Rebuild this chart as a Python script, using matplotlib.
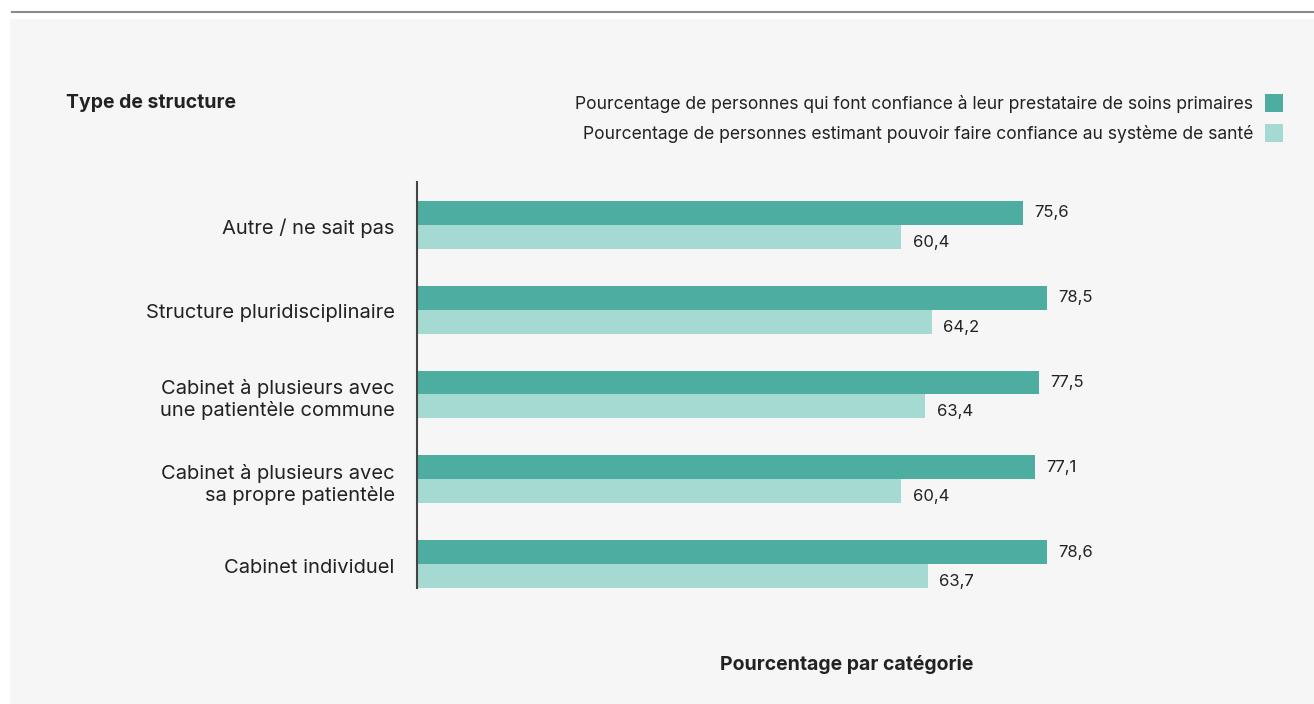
import matplotlib.pyplot as plt
from matplotlib.patches import Rectangle
from matplotlib.lines import Line2D
import numpy as np

plt.rcParams['font.family'] = ['Inter', 'DejaVu Sans']

# data (bottom to top)
categories = ['Cabinet individuel',
              'Cabinet à plusieurs avec\nsa propre patientèle',
              'Cabinet à plusieurs avec\nune patientèle commune',
              'Structure pluridisciplinaire',
              'Autre / ne sait pas']
trust_provider = [78.6, 77.1, 77.5, 78.5, 75.6]
trust_system = [63.7, 60.4, 63.4, 64.2, 60.4]
series_names = ['Pourcentage de personnes qui font confiance à leur prestataire de soins primaires',
                'Pourcentage de personnes estimant pouvoir faire confiance au système de santé']

dark = '#4dada0'
light = '#a5dad2'
text_col = '#222222'

W, H = 1314, 704
fig = plt.figure(figsize=(W / 100, H / 100), dpi=100)
fig.patch.set_facecolor('white')

# panel background and top rule
fig.patches.append(Rectangle((10 / W, 0), 1 - 10 / W, 1 - 19 / H, transform=fig.transFigure,
                             facecolor='#f6f6f6', edgecolor='none', zorder=-10))
fig.lines.append(Line2D([12 / W, 1], [1 - 12 / H, 1 - 12 / H], transform=fig.transFigure,
                        color='#8a8a8a', lw=1.5, zorder=-10))

ax = fig.add_axes([417 / W, 1 - 588 / H, 802 / W, 406 / H])
ax.set_facecolor('none')
ax.set_zorder(5)

y = np.arange(len(categories))
bh = 0.283
ax.barh(y + bh / 2, trust_provider, height=bh, color=dark)
ax.barh(y - bh / 2, trust_system, height=bh, color=light)

for yi, v in zip(y, trust_provider):
    ax.text(v + 1.4, yi + bh / 2, f'{v:.1f}'.replace('.', ','), va='center', ha='left',
            fontsize=12, color=text_col)
for yi, v in zip(y, trust_system):
    ax.text(v + 1.4, yi - bh / 2 - 0.065, f'{v:.1f}'.replace('.', ','), va='center', ha='left',
            fontsize=12, color=text_col)

ax.set_xlim(0, 100)
ax.set_ylim(-0.283, 4.507)
ax.set_xticks([])
ax.set_yticks(y - 0.02)
ax.set_yticklabels(categories, fontsize=14.5, color=text_col, linespacing=1.2)
ax.tick_params(axis='y', length=0, pad=16)
for s in ['top', 'right', 'bottom']:
    ax.spines[s].set_visible(False)
ax.spines['left'].set_color('#444444')
ax.spines['left'].set_linewidth(1.5)

# titles
fig.text(66 / W, 1 - 103 / H, 'Type de structure', fontsize=14, fontweight='bold',
         color=text_col, va='center', ha='left')
fig.text(847 / W, 1 - 665 / H, 'Pourcentage par catégorie', fontsize=14, fontweight='bold',
         color=text_col, va='center', ha='center')

# legend
for i, (name, c) in enumerate(zip(series_names, [dark, light])):
    yc = 103 + 30 * i
    fig.text(1253 / W, 1 - (yc + 1) / H, name, fontsize=12.6, color=text_col, va='center', ha='right')
    fig.patches.append(Rectangle((1265 / W, 1 - (yc + 9) / H), 18 / W, 18 / H,
                                 transform=fig.transFigure, facecolor=c, edgecolor='none'))

fig.savefig('out.png', dpi=100)
